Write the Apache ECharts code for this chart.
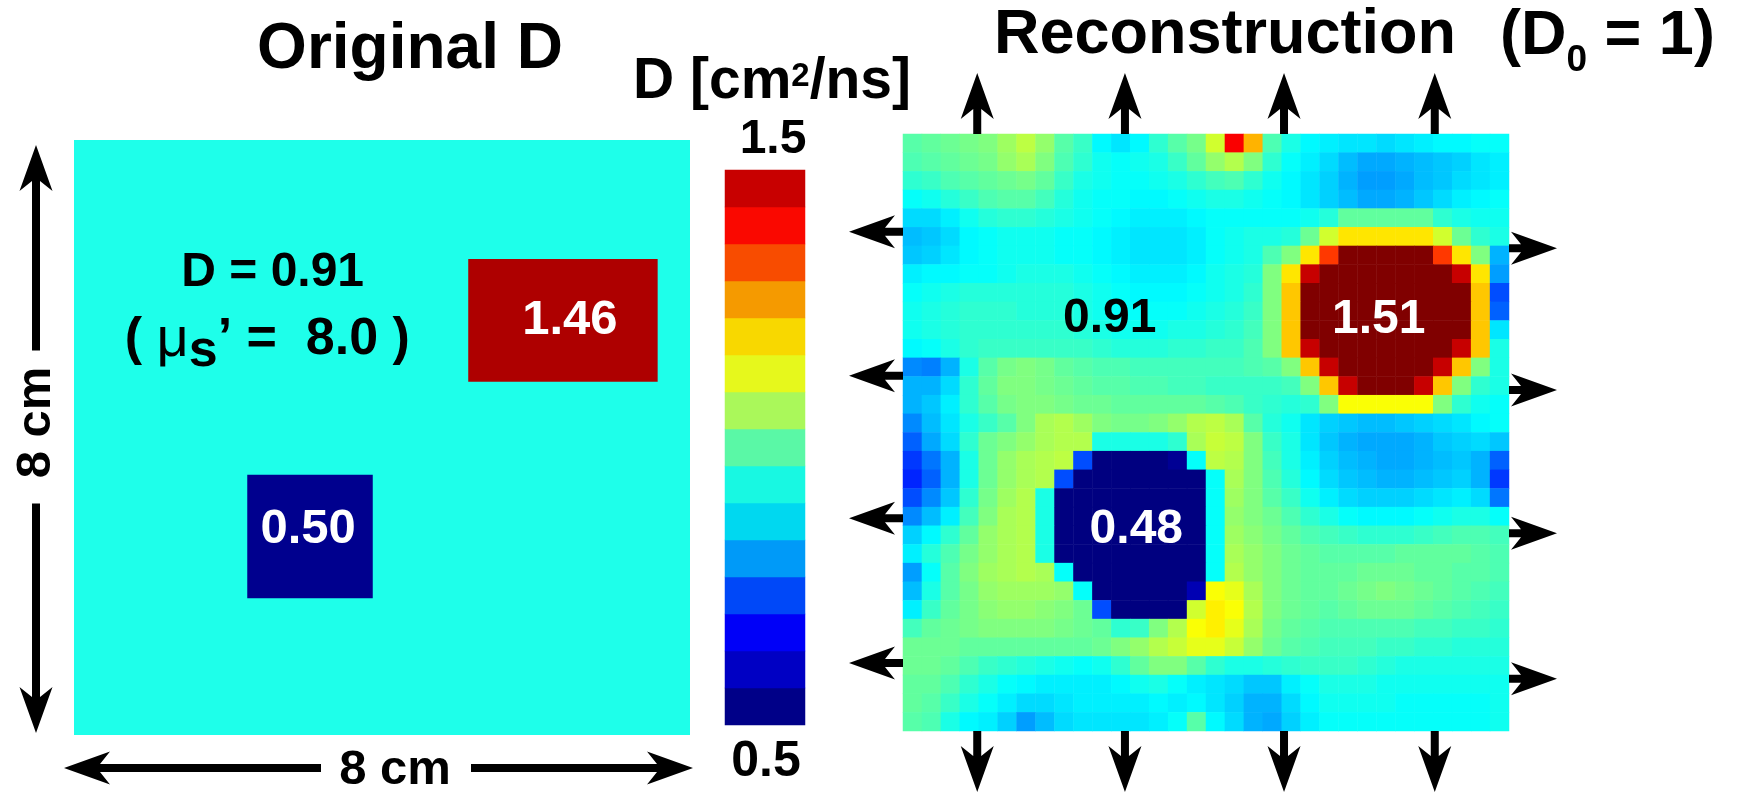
<!DOCTYPE html>
<html><head><meta charset="utf-8">
<script src="https://cdn.jsdelivr.net/npm/echarts@6/dist/echarts.min.js"></script>
<style>html,body{margin:0;padding:0;background:#fff}#c{width:1744px;height:793px}</style>
</head><body><div id="c"></div>
<script>
const FONT = '"Liberation Sans", Arial, Helvetica, sans-serif';

// ---------- Original D map (cm, y measured from top edge) ----------
const origBackgroundD = 0.91;
const origInclusionX0 = [5.12, 2.25];
const origInclusionX1 = [7.58, 3.88];
const origInclusionY0 = [1.60, 4.50];
const origInclusionY1 = [3.25, 6.16];
const origInclusionD  = [1.46, 0.50];
const origColorOf = {'0.91': '#1EFFEA', '1.46': '#AE0000', '0.5': '#00008E'};

// ---------- colour bar ----------
const cbTickLabels = ['0.5', '1.5'];
const cbLevels = [0.533, 0.6, 0.667, 0.733, 0.8, 0.867, 0.933, 1.0, 1.067, 1.133, 1.2, 1.267, 1.333, 1.4, 1.467];
const cbColors = ['#000088', '#0000C4', '#0000F8', '#0048F8', '#009AF8', '#00D8F0', '#18F8E2', '#5AF8A6',
                  '#AAF85A', '#E6F81C', '#F8D800', '#F59A00', '#F84C00', '#FA0800', '#C80000'];

// ---------- reconstruction (32 x 32 cells, row 0 = top) ----------
const reconRows = [
 [0.96,0.97,0.98,0.99,1.00,1.03,1.06,1.02,0.96,0.93, 0.87,0.85,0.87,0.92,0.96,0.99,1.08,1.38,1.20,0.95, 0.90,0.87,0.86,0.85,0.85,0.84,0.85,0.86,0.87,0.87, 0.88,0.88],
 [0.95,0.96,0.97,0.98,0.99,1.02,1.04,1.00,0.95,0.92, 0.89,0.88,0.89,0.90,0.93,0.97,1.02,1.05,1.00,0.92, 0.88,0.86,0.84,0.81,0.79,0.79,0.80,0.81,0.82,0.83, 0.85,0.86],
 [0.92,0.93,0.95,0.96,0.97,0.98,0.99,0.97,0.93,0.90, 0.89,0.88,0.88,0.89,0.90,0.92,0.94,0.95,0.92,0.89, 0.87,0.85,0.83,0.80,0.78,0.78,0.79,0.81,0.82,0.84, 0.85,0.86],
 [0.88,0.89,0.91,0.93,0.95,0.96,0.96,0.94,0.91,0.89, 0.88,0.88,0.87,0.87,0.88,0.89,0.90,0.90,0.89,0.88, 0.87,0.85,0.83,0.81,0.79,0.79,0.80,0.82,0.84,0.86, 0.87,0.88],
 [0.84,0.84,0.86,0.89,0.91,0.92,0.92,0.91,0.90,0.89, 0.88,0.87,0.86,0.86,0.86,0.87,0.88,0.88,0.88,0.88, 0.88,0.89,0.91,0.97,0.97,0.97,0.97,0.97,0.92,0.90, 0.89,0.89],
 [0.81,0.82,0.84,0.87,0.88,0.89,0.89,0.89,0.88,0.88, 0.87,0.86,0.85,0.85,0.85,0.86,0.88,0.89,0.90,0.90, 0.91,0.98,1.08,1.15,1.15,1.15,1.15,1.15,1.08,0.98, 0.92,0.90],
 [0.82,0.83,0.85,0.87,0.88,0.89,0.89,0.89,0.88,0.88, 0.87,0.86,0.85,0.85,0.85,0.86,0.88,0.89,0.90,0.95, 1.00,1.15,1.32,1.53,1.53,1.53,1.53,1.53,1.32,1.15, 1.00,0.80],
 [0.86,0.87,0.87,0.88,0.88,0.89,0.90,0.90,0.90,0.89, 0.88,0.87,0.86,0.86,0.86,0.87,0.89,0.90,0.91,1.00, 1.15,1.43,1.53,1.53,1.53,1.53,1.53,1.53,1.53,1.43, 1.15,0.78],
 [0.88,0.89,0.90,0.91,0.91,0.91,0.91,0.91,0.91,0.90, 0.89,0.88,0.87,0.87,0.87,0.88,0.89,0.90,0.92,1.00, 1.18,1.53,1.53,1.53,1.53,1.53,1.53,1.53,1.53,1.53, 1.18,0.70],
 [0.89,0.90,0.91,0.92,0.92,0.92,0.91,0.91,0.91,0.90, 0.89,0.88,0.88,0.88,0.88,0.89,0.90,0.91,0.93,1.00, 1.18,1.53,1.53,1.53,1.53,1.53,1.53,1.53,1.53,1.53, 1.18,0.72],
 [0.89,0.90,0.91,0.92,0.92,0.92,0.92,0.92,0.92,0.91, 0.90,0.89,0.89,0.89,0.90,0.90,0.91,0.92,0.94,1.00, 1.18,1.53,1.53,1.53,1.53,1.53,1.53,1.53,1.53,1.53, 1.18,0.85],
 [0.87,0.88,0.90,0.92,0.93,0.93,0.93,0.93,0.93,0.93, 0.92,0.91,0.91,0.91,0.92,0.92,0.93,0.93,0.95,1.00, 1.18,1.43,1.53,1.53,1.53,1.53,1.53,1.53,1.53,1.43, 1.18,0.90],
 [0.76,0.75,0.80,0.90,0.96,0.99,1.00,0.99,0.97,0.96, 0.95,0.95,0.94,0.94,0.94,0.94,0.94,0.94,0.95,0.96, 1.00,1.18,1.43,1.53,1.53,1.53,1.53,1.53,1.43,1.18, 1.00,0.90],
 [0.80,0.80,0.84,0.92,0.97,1.00,1.00,0.99,0.98,0.97, 0.96,0.96,0.95,0.95,0.94,0.94,0.93,0.93,0.93,0.93, 0.94,1.00,1.18,1.43,1.53,1.53,1.53,1.43,1.18,1.00, 0.92,0.90],
 [0.80,0.82,0.86,0.92,0.96,0.99,1.00,1.00,0.99,0.98, 0.98,0.97,0.97,0.97,0.97,0.97,0.96,0.95,0.93,0.92, 0.91,0.92,1.00,1.12,1.12,1.12,1.12,1.12,1.00,0.92, 0.89,0.88],
 [0.76,0.81,0.85,0.90,0.93,0.96,1.00,1.04,1.05,1.03, 1.00,0.99,0.99,1.00,1.02,1.05,1.06,1.04,0.96,0.91, 0.89,0.85,0.83,0.82,0.81,0.81,0.82,0.83,0.84,0.85, 0.87,0.88],
 [0.72,0.79,0.84,0.92,0.98,1.00,1.02,1.04,1.05,1.05, 0.90,0.90,0.90,0.90,0.92,1.04,1.07,1.06,1.00,0.93, 0.90,0.85,0.82,0.80,0.79,0.79,0.79,0.80,0.82,0.83, 0.84,0.82],
 [0.68,0.74,0.80,0.90,0.98,1.02,1.04,1.05,1.06,0.70, 0.46,0.46,0.46,0.46,0.52,0.88,1.06,1.05,1.00,0.94, 0.90,0.86,0.83,0.81,0.80,0.79,0.79,0.80,0.81,0.82, 0.80,0.72],
 [0.66,0.72,0.80,0.90,0.98,1.02,1.04,1.05,0.70,0.46, 0.46,0.46,0.46,0.46,0.46,0.46,0.88,1.04,1.00,0.95, 0.91,0.87,0.84,0.82,0.81,0.80,0.80,0.81,0.82,0.83, 0.80,0.68],
 [0.70,0.76,0.82,0.92,0.99,1.03,1.05,0.90,0.46,0.46, 0.46,0.46,0.46,0.46,0.46,0.46,0.88,1.03,1.00,0.96, 0.93,0.89,0.86,0.84,0.83,0.83,0.83,0.84,0.85,0.86, 0.84,0.74],
 [0.76,0.81,0.86,0.94,1.00,1.04,1.05,0.90,0.46,0.46, 0.46,0.46,0.46,0.46,0.46,0.46,0.88,1.02,1.00,0.98, 0.95,0.92,0.90,0.88,0.87,0.87,0.87,0.88,0.89,0.90, 0.90,0.88],
 [0.83,0.87,0.92,0.97,1.02,1.04,1.05,0.90,0.46,0.46, 0.46,0.46,0.46,0.46,0.46,0.46,0.88,1.03,1.01,0.99, 0.97,0.95,0.94,0.93,0.92,0.92,0.92,0.93,0.94,0.95, 0.95,0.94],
 [0.86,0.91,0.95,0.99,1.02,1.04,1.05,0.90,0.46,0.46, 0.46,0.46,0.46,0.46,0.46,0.46,0.88,1.04,1.02,1.00, 0.98,0.97,0.96,0.96,0.96,0.96,0.97,0.97,0.97,0.97, 0.96,0.95],
 [0.78,0.88,0.96,1.00,1.03,1.04,1.05,1.04,0.88,0.46, 0.46,0.46,0.46,0.46,0.46,0.46,0.88,1.05,1.02,1.00, 0.98,0.97,0.97,0.97,0.98,0.98,0.98,0.97,0.97,0.96, 0.96,0.95],
 [0.81,0.90,0.96,0.99,1.02,1.03,1.03,1.03,1.02,0.88, 0.46,0.46,0.46,0.46,0.46,0.55,1.12,1.10,1.04,1.00, 0.98,0.97,0.97,0.98,0.99,1.00,0.99,0.98,0.97,0.96, 0.95,0.94],
 [0.86,0.93,0.97,0.99,1.01,1.02,1.02,1.01,1.00,0.98, 0.70,0.46,0.46,0.46,0.50,1.08,1.14,1.12,1.05,1.00, 0.98,0.97,0.96,0.97,0.98,0.98,0.98,0.97,0.96,0.95, 0.94,0.93],
 [0.94,0.97,0.98,0.99,1.00,1.00,1.00,1.00,0.99,0.98, 0.97,0.92,0.93,1.00,1.05,1.12,1.14,1.10,1.04,0.99, 0.97,0.96,0.95,0.95,0.95,0.95,0.95,0.94,0.94,0.93, 0.93,0.92],
 [0.98,0.98,0.98,0.97,0.97,0.97,0.97,0.97,0.97,0.97, 0.98,1.00,1.02,1.05,1.07,1.10,1.10,1.07,1.02,0.98, 0.96,0.95,0.94,0.94,0.94,0.93,0.93,0.92,0.92,0.91, 0.91,0.91],
 [0.98,0.98,0.97,0.95,0.93,0.92,0.91,0.90,0.89,0.88, 0.89,0.92,0.97,1.00,1.00,0.96,0.92,0.90,0.90,0.91, 0.92,0.93,0.93,0.93,0.92,0.91,0.90,0.90,0.90,0.90, 0.90,0.90],
 [0.97,0.97,0.95,0.92,0.90,0.88,0.87,0.86,0.86,0.86, 0.86,0.87,0.89,0.90,0.88,0.86,0.85,0.84,0.82,0.82, 0.86,0.88,0.90,0.90,0.90,0.89,0.89,0.89,0.89,0.89, 0.89,0.89],
 [0.97,0.96,0.93,0.90,0.88,0.86,0.84,0.84,0.85,0.86, 0.86,0.86,0.86,0.87,0.86,0.87,0.85,0.83,0.80,0.80, 0.84,0.87,0.89,0.89,0.89,0.89,0.88,0.88,0.88,0.88, 0.88,0.89],
 [0.96,0.95,0.90,0.87,0.86,0.83,0.78,0.81,0.84,0.85, 0.85,0.85,0.85,0.86,0.88,0.96,0.87,0.84,0.80,0.79, 0.83,0.86,0.88,0.88,0.88,0.88,0.88,0.88,0.88,0.88, 0.88,0.89]
];

// source / detector positions around the reconstruction (cm)
const arrowsTopX    = [0.98, 2.93, 5.03, 7.02];
const arrowsBottomX = [0.98, 2.93, 5.03, 7.02];
const arrowsLeftY   = [1.31, 3.24, 5.15, 7.09];
const arrowsRightY  = [1.53, 3.43, 5.35, 7.30];

// labels (text, x cm, y cm)
const origLabelTexts = ['1.46', '0.50'];
const origLabelX = [6.44, 3.04];
const origLabelY = [2.42, 5.24];
const reconLabelTexts = ['0.91', '1.51', '0.48'];
const reconLabelX = [2.73, 6.28, 3.08];
const reconLabelY = [2.47, 2.49, 5.31];

// ---------------------------------------------------------------
const nC = reconRows[0].length, nR = reconRows.length;
const idxC = Array.from({length: nC}, (_, i) => String(i));
const idxR = Array.from({length: nR}, (_, i) => String(i));
const heatData = [];
reconRows.forEach((row, r) => row.forEach((v, c) => heatData.push([c, r, v])));

const origItems = [[0, 8, 0, 8, origBackgroundD]];
origInclusionD.forEach((d, i) => origItems.push([origInclusionX0[i], origInclusionX1[i], origInclusionY0[i], origInclusionY1[i], d]));

const cbData = cbLevels.map((v, i) => ({value: [0, i, v], itemStyle: {color: cbColors[i]}}));

const hiddenVal = (gi, inv) => ({type: 'value', gridIndex: gi, min: 0, max: 8, show: false, inverse: !!inv});

const chart = echarts.init(document.getElementById('c'), null, {renderer: 'canvas'});
const option = {
  animation: false,
  backgroundColor: '#ffffff',
  grid: [
    {left: 74, top: 140, width: 616, height: 595},
    {left: 725, top: 170, width: 80, height: 555},
    {left: 903, top: 134, width: 606, height: 597},
    {left: 903, top: 134, width: 606, height: 597}
  ],
  xAxis: [
    hiddenVal(0, false),
    {type: 'category', gridIndex: 1, data: ['cb'], show: false},
    {type: 'category', gridIndex: 2, data: idxC, show: false},
    hiddenVal(3, false)
  ],
  yAxis: [
    hiddenVal(0, true),
    {type: 'category', gridIndex: 1, data: cbLevels.map(String), show: false},
    {type: 'category', gridIndex: 2, data: idxR, show: false, inverse: true},
    hiddenVal(3, true)
  ],
  visualMap: [
    {type: 'piecewise', show: false, seriesIndex: 1, dimension: 2,
     pieces: cbLevels.map((v, i) => ({value: v, color: cbColors[i]}))},
    {type: 'continuous', show: false, seriesIndex: 2, dimension: 2, min: 0.375, max: 1.625,
     inRange: {color: ['#000080', '#000080', '#0000FF', '#0080FF', '#00FFFF', '#80FF80',
                       '#FFFF00', '#FF8000', '#FF0000', '#800000', '#800000']}}
  ],
  series: [
    {type: 'custom', xAxisIndex: 0, yAxisIndex: 0, data: origItems, silent: true,
     renderItem: function (params, api) {
       const p0 = api.coord([api.value(0), api.value(2)]);
       const p1 = api.coord([api.value(1), api.value(3)]);
       const key = String(api.value(4));
       return {type: 'rect',
               shape: {x: p0[0], y: p0[1], width: p1[0] - p0[0], height: p1[1] - p0[1]},
               style: {fill: origColorOf[key]}};
     }},
    {type: 'heatmap', xAxisIndex: 1, yAxisIndex: 1, data: cbData, silent: true,
     itemStyle: {borderWidth: 0}, emphasis: {disabled: true}},
    {type: 'heatmap', xAxisIndex: 2, yAxisIndex: 2, data: heatData, silent: true,
     itemStyle: {borderWidth: 0}, emphasis: {disabled: true}},
    {type: 'scatter', xAxisIndex: 3, yAxisIndex: 3, data: [], silent: true}
  ]
};
chart.setOption(option);

// ---------------- annotations ----------------
const px = (g, x, y) => chart.convertToPixel({gridIndex: g}, [x, y]);

function arrowPoly(bx, by, tx, ty, head, halfHead, halfShaft, notch) {
  const dx = tx - bx, dy = ty - by, L = Math.hypot(dx, dy);
  const ux = dx / L, uy = dy / L, nx = -uy, ny = ux;
  const hb = [tx - ux * head, ty - uy * head];
  const nj = [tx - ux * (head - notch), ty - uy * (head - notch)];
  return [
    [bx + nx * halfShaft, by + ny * halfShaft],
    [nj[0] + nx * halfShaft, nj[1] + ny * halfShaft],
    [hb[0] + nx * halfHead, hb[1] + ny * halfHead],
    [tx, ty],
    [hb[0] - nx * halfHead, hb[1] - ny * halfHead],
    [nj[0] - nx * halfShaft, nj[1] - ny * halfShaft],
    [bx - nx * halfShaft, by - ny * halfShaft]
  ];
}
const arrow = (b, t) => ({type: 'polygon', silent: true, z: 100,
  shape: {points: arrowPoly(b[0], b[1], t[0], t[1], 46, 16.5, 4, 10)}, style: {fill: '#000'}});

const text = (x, y, str, size, extra) => Object.assign({type: 'text', silent: true, z: 110,
  x: x, y: y,
  style: Object.assign({text: str, x: 0, y: 0, fill: '#000', align: 'center', verticalAlign: 'middle',
                        fontFamily: FONT, fontWeight: 'bold', fontSize: size}, (extra && extra.style) || {})},
  (extra && extra.el) || {});

const mctx = document.createElement('canvas').getContext('2d');
const measure = (t, size, weight) => { mctx.font = weight + ' ' + size + 'px ' + FONT; return mctx.measureText(t).width; };
const G = [];
function composite(x, y, parts, align) {
  const w = parts.map(p => measure(p.t, p.size, p.weight || 'bold'));
  const total = w.reduce((a, b) => a + b, 0);
  let cx = align === 'center' ? x - total / 2 : x;
  parts.forEach((p, i) => {
    G.push({type: 'text', silent: true, z: 110, x: cx, y: y + (p.dy || 0),
      style: {text: p.t, x: 0, y: 0, align: 'left', verticalAlign: 'middle', fill: '#000',
              fontFamily: FONT, fontWeight: p.weight || 'bold', fontSize: p.size}});
    cx += w[i];
  });
}

// right-panel source/detector arrows
arrowsTopX.forEach(x => { const b = px(3, x, 0); G.push(arrow(b, [b[0], b[1] - 61])); });
arrowsBottomX.forEach(x => { const b = px(3, x, 8); G.push(arrow(b, [b[0], b[1] + 61])); });
arrowsLeftY.forEach(y => { const b = px(3, 0, y); G.push(arrow(b, [b[0] - 54, b[1]])); });
arrowsRightY.forEach(y => { const b = px(3, 8, y); G.push(arrow(b, [b[0] + 48, b[1]])); });

// left-panel dimension arrows (8 cm)
const tl = px(0, 0, 0), br = px(0, 8, 8);
const hy = br[1] + 33, hcx = (tl[0] + br[0]) / 2 + 13;
G.push(arrow([hcx - 74, hy], [tl[0] - 10, hy]));
G.push(arrow([hcx + 76, hy], [br[0] + 3, hy]));
G.push(text(hcx, hy + 2, '8 cm', 49));
const vx = tl[0] - 38, vcy = (tl[1] + br[1]) / 2 - 15;
G.push(arrow([vx, vcy - 72], [vx, tl[1] + 5]));
G.push(arrow([vx, vcy + 81], [vx, br[1] - 2]));
G.push(text(vx, vcy, '8 cm', 49, {el: {rotation: Math.PI / 2}}));

// titles
G.push(text(410, 50, 'Original D', 64));
G.push(text(1225, 36, 'Reconstruction', 63));
composite(1500, 37, [{t: '(D', size: 63}, {t: '0', size: 37, dy: 23.5}, {t: ' = 1)', size: 63}], 'left');
// colour bar title and ticks
composite(772, 82, [{t: 'D [cm', size: 57}, {t: '2', size: 33, dy: -5.5}, {t: '/ns]', size: 57}], 'center');
const cbTop = px(1, 0, cbLevels.length - 1), cbBot = px(1, 0, 0);
G.push(text(cbTop[0] + 8, cbTop[1] - 18.5 - 30, cbTickLabels[1], 48));
G.push(text(cbBot[0] + 1, cbBot[1] + 18.5 + 37, cbTickLabels[0], 50));

// left-panel texts
const dPos = px(0, 2.58, 1.79);
G.push(text(dPos[0], dPos[1], 'D = ' + origBackgroundD.toFixed(2), 48));
const mPos = px(0, 2.51, 2.69);
composite(mPos[0], mPos[1], [{t: '( ', size: 52}, {t: '\u03bc', size: 56, weight: 'normal'},
  {t: 's', size: 52, dy: 12}, {t: '\u2019 =  8.0 )', size: 52}], 'center');
origLabelTexts.forEach((t, i) => { const p = px(0, origLabelX[i], origLabelY[i]);
  G.push(text(p[0], p[1], t, 49, {style: {fill: '#fff'}})); });
reconLabelTexts.forEach((t, i) => { const p = px(3, reconLabelX[i], reconLabelY[i]);
  G.push(text(p[0], p[1], t, 48, {style: {fill: t === '0.91' ? '#000' : '#fff'}})); });

chart.setOption({graphic: G});
</script>
</body></html>
